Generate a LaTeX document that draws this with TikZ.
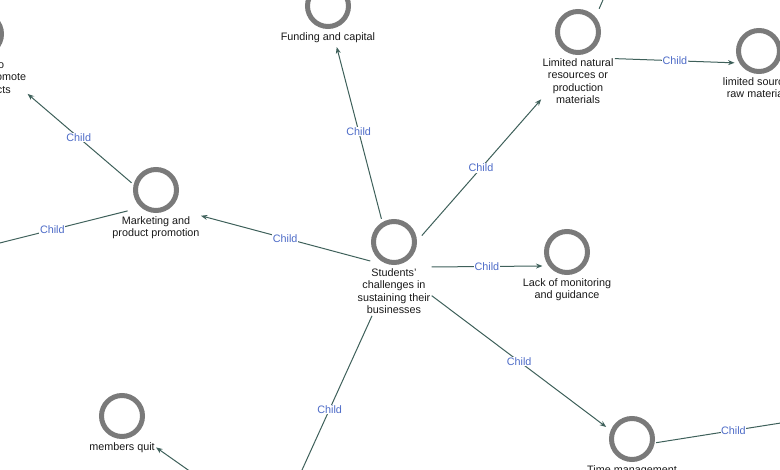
\documentclass[tikz,border=0pt]{standalone}
\usepackage{fontspec}
\setmainfont{Liberation Sans}
\usetikzlibrary{positioning,arrows.meta,fit}
\definecolor{ringgray}{RGB}{122,122,122}
\definecolor{edgegreen}{RGB}{62,96,90}
\definecolor{childblue}{RGB}{78,108,200}
\definecolor{nodetext}{RGB}{25,25,25}

\begin{document}
\begin{tikzpicture}[x=1pt, y=-1pt,
  % Node Styles
  cnode/.style={circle, draw=ringgray, line width=5pt, minimum size=41pt, inner sep=0pt},
  ctext/.style={align=center, text=nodetext, inner xsep=1pt, inner ysep=1.5pt},
  cbox/.style={inner sep=0pt},
  childlbl/.style={fill=white, text=childblue, inner sep=0.6pt},
  % Arrow Styles
  childarrow/.style={-{Stealth[length=6.5pt, width=5pt]}, draw=edgegreen, line width=1pt},
]
\tikzset{font=\fontsize{10.8}{12.6}\selectfont}

\useasboundingbox (0,0) rectangle (780,470);
\clip (0,0) rectangle (780,470);

% Concept map for: Students' challenges in sustaining their businesses

\node[cnode] (C_Students) at (394.00,242.00) {};
\node[ctext, below=1.5pt of C_Students] (C_Students_T) {Students'\\challenges in\\sustaining their\\businesses};
\node[cbox, fit=(C_Students)(C_Students_T)] (C_Students_B) {};

\node[cnode] (C_Funding) at (328.00,6.00) {};
\node[ctext, below=1.5pt of C_Funding] (C_Funding_T) {Funding and capital};
\node[cbox, fit=(C_Funding)(C_Funding_T)] (C_Funding_B) {};

\node[cnode] (C_Natural) at (578.00,32.00) {};
\node[ctext, below=1.5pt of C_Natural] (C_Natural_T) {Limited natural\\resources or\\production\\materials};
\node[cbox, fit=(C_Natural)(C_Natural_T)] (C_Natural_B) {};

\node[cnode] (C_Sources) at (759.00,51.00) {};
\node[ctext, below=1.5pt of C_Sources] (C_Sources_T) {limited sources\\raw materials};
\node[cbox, fit=(C_Sources)(C_Sources_T)] (C_Sources_B) {};

\node[cnode] (C_Marketing) at (156.00,190.00) {};
\node[ctext, below=1.5pt of C_Marketing] (C_Marketing_T) {Marketing and\\product promotion};
\node[cbox, fit=(C_Marketing)(C_Marketing_T)] (C_Marketing_B) {};

\node[cnode] (C_Promote) at (-19.00,34.00) {};
\node[ctext, below=1.5pt of C_Promote] (C_Promote_T) {Unable to\\effectively promote\\the products};
\node[cbox, fit=(C_Promote)(C_Promote_T)] (C_Promote_B) {};

\node[cnode] (C_Monitoring) at (567.00,252.00) {};
\node[ctext, below=1.5pt of C_Monitoring] (C_Monitoring_T) {Lack of monitoring\\and guidance};
\node[cbox, fit=(C_Monitoring)(C_Monitoring_T)] (C_Monitoring_B) {};

\node[cnode] (C_Time) at (632.00,439.00) {};
\node[ctext, below=1.5pt of C_Time] (C_Time_T) {Time management};
\node[cbox, fit=(C_Time)(C_Time_T)] (C_Time_B) {};

\node[cnode] (C_Quit) at (122.00,416.00) {};
\node[ctext, below=1.5pt of C_Quit] (C_Quit_T) {members quit};
\node[cbox, fit=(C_Quit)(C_Quit_T)] (C_Quit_B) {};

% free ends outside the frame
\coordinate (C_UpRight) at (640.00,-85.00);
\coordinate (C_Left) at (-23.00,248.70);
\coordinate (C_Right) at (810.60,418.30);
\coordinate (C_BottomIn) at (287.20,502.60);
\coordinate (C_BottomOut) at (235.00,503.00);

\draw[childarrow, shorten >=3pt] (C_Students_B) -- node[childlbl, pos=0.5] {Child} (C_Funding_B);
\draw[childarrow, shorten <=-15pt] (C_Students_B) -- node[childlbl, pos=0.45] {Child} (C_Natural_B);
\draw[childarrow, shorten <=-14.5pt] (C_Students_B) -- node[childlbl, pos=0.458] {Child} (C_Marketing_B);
\draw[childarrow, shorten >=-21pt] (C_Students_B) -- node[childlbl, pos=0.615] {Child} (C_Monitoring_B);
\draw[childarrow, shorten >=-18.6pt] (C_Students_B) -- node[childlbl, pos=0.548] {Child} (C_Time_B);
\draw[childarrow] (C_Students_B) -- node[childlbl, pos=0.5] {Child} (C_BottomIn);

\draw[childarrow, shorten >=-13pt] (C_Natural_B) -- node[childlbl, pos=0.563] {Child} (C_Sources_B);
\draw[childarrow] (C_Natural_B) -- (C_UpRight);

\draw[childarrow, shorten <=-24.6pt] (C_Marketing_B) -- node[childlbl, pos=0.40] {Child} (C_Promote_B);
\draw[childarrow, shorten <=-17pt] (C_Marketing_B) -- node[childlbl, pos=0.438] {Child} (C_Left);

\draw[childarrow, shorten <=-22.3pt] (C_Time_B) -- node[childlbl, pos=0.417] {Child} (C_Right);
\draw[childarrow] (C_BottomOut) -- (C_Quit_B);

\end{tikzpicture}
\end{document}
